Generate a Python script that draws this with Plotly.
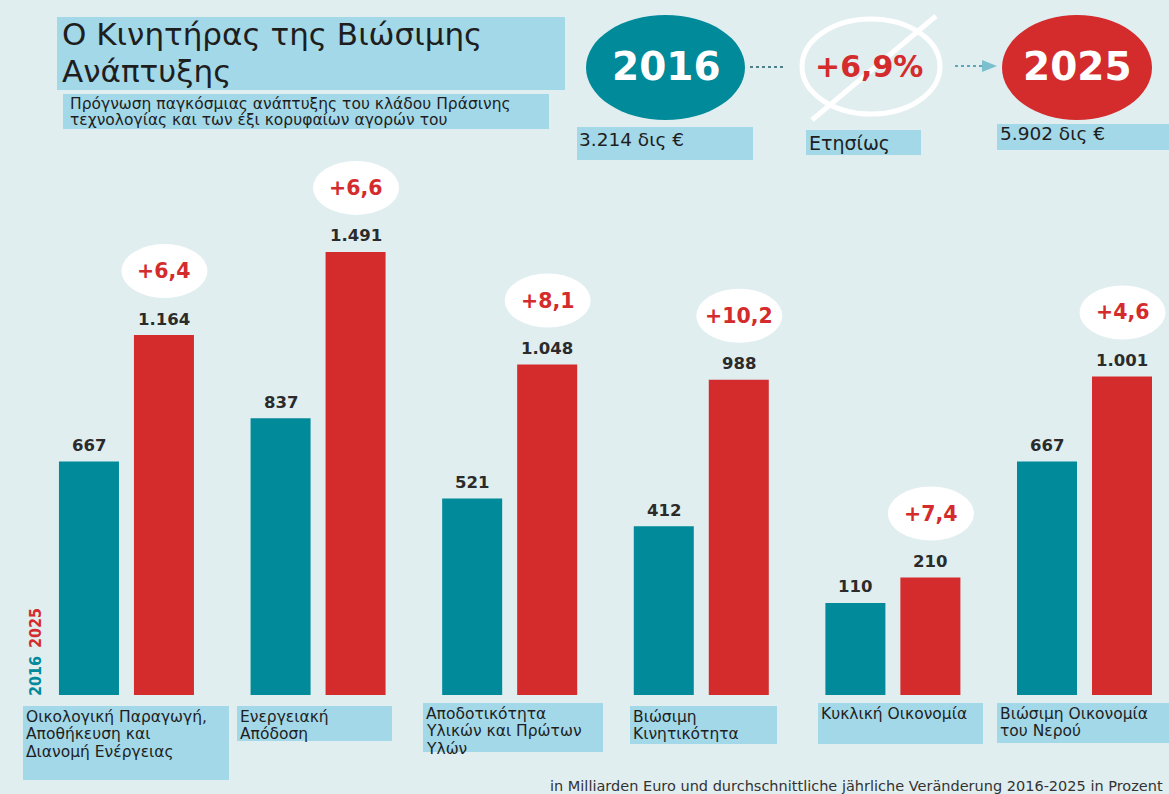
import plotly.graph_objects as go

# ---------------- data ----------------
categories = [
    "Οικολογική Παραγωγή,<br>Αποθήκευση και<br>Διανομή Ενέργειας",
    "Ενεργειακή<br>Απόδοση",
    "Αποδοτικότητα<br>Υλικών και Πρώτων<br>Υλών",
    "Βιώσιμη<br>Κινητικότητα",
    "Κυκλική Οικονομία",
    "Βιώσιμη Οικονομία<br>του Νερού",
]
values_2016 = [667, 837, 521, 412, 110, 667]
values_2025 = [1164, 1491, 1048, 988, 210, 1001]
growth_pct = ["+6,4", "+6,6", "+8,1", "+10,2", "+7,4", "+4,6"]
year_labels = ["2016", "2025"]
total_2016 = "3.214 δις €"
total_2025 = "5.902 δις €"
total_growth = "+6,9%"
growth_caption = "Ετησίως"
title_lines = ["Ο Κινητήρας της Βιώσιμης", "Ανάπτυξης"]
subtitle_lines = ["Πρόγνωση παγκόσμιας ανάπτυξης του κλάδου Πράσινης",
                  "τεχνολογίας και των έξι κορυφαίων αγορών του"]
footer = "in Milliarden Euro und durchschnittliche jährliche Veränderung 2016-2025 in Prozent"

# ---------------- style ----------------
W, H = 1169, 794
BG = "#e1eef0"
BOX = "#a3d8e8"
TEAL = "#008a9a"
RED = "#d42b2d"
TXT = "#1e1e1e"
FLOOR = -252          # truncated axis floor (as in the original infographic)
YTOP = 1884
FONT = "DejaVu Sans"
BOLD = "DejaVu Sans"


def py(p):
    return 1 - p / H


def px(p):
    return p / W


idx = list(range(len(categories)))
fmt = lambda v: f"{v:,}".replace(",", ".")

fig = go.Figure()
fig.add_trace(go.Bar(x=idx, y=[v - FLOOR for v in values_2016], base=FLOOR,
                     width=0.3132, offset=-0.3523, marker=dict(color=TEAL, line_width=0),
                     hoverinfo="skip", showlegend=False))
fig.add_trace(go.Bar(x=idx, y=[v - FLOOR for v in values_2025], base=FLOOR,
                     width=0.3132, offset=0.0391, marker=dict(color=RED, line_width=0),
                     hoverinfo="skip", showlegend=False))

shapes = []
ann = []


def txt(x, y, text, size, color=TXT, family=FONT, bold=False, xanchor="center",
        yanchor="middle", **kw):
    d = dict(x=x, y=y, xref=kw.pop("xref", "paper"), yref=kw.pop("yref", "paper"),
             text=text, showarrow=False, xanchor=xanchor, yanchor=yanchor,
             font=dict(family=family, size=size, color=color,
                       weight="bold" if bold else "normal"))
    d.update(kw)
    ann.append(d)


def box(l, t, r, b):
    shapes.append(dict(type="rect", xref="paper", yref="paper", x0=px(l), x1=px(r),
                       y0=py(b), y1=py(t), fillcolor=BOX, line_width=0, layer="below"))


# value labels + growth bubbles
for i in idx:
    txt(i, values_2016[i], fmt(values_2016[i]), 16.5, "#2b2b2b", BOLD, True,
        xref="x", yref="y", xshift=-37.5, yshift=16)
    txt(i, values_2025[i], fmt(values_2025[i]), 16.5, "#2b2b2b", BOLD, True,
        xref="x", yref="y", xshift=37.5, yshift=16)
    shapes.append(dict(type="circle", xref="x", yref="y", xsizemode="pixel", ysizemode="pixel",
                       xanchor=i, yanchor=values_2025[i], x0=-5, x1=81, y0=37, y1=91,
                       fillcolor="white", line_width=0, layer="above"))
    txt(i, values_2025[i], growth_pct[i], 20.5, RED, BOLD, True,
        xref="x", yref="y", xshift=38, yshift=64)

# category label boxes (left, top, width, height in px)
cat_boxes = [(23, 706, 206, 74), (237, 706, 155, 35), (423, 703, 180, 49),
             (630, 706, 147, 38), (818, 703, 165, 41), (997, 703, 172, 40)]
for (l, t, w, h), lab in zip(cat_boxes, categories):
    box(l, t, l + w, t + h)
    for k, line in enumerate(lab.split("<br>")):
        txt(px(l + 1), py(t + 10.5 + 17.8 * k), line, 15.5, xanchor="left")

# vertical year legend
COND = "Liberation Sans Narrow, DejaVu Sans Condensed, DejaVu Sans"
txt(px(35), py(676), year_labels[0], 16, TEAL, COND, True, textangle=-90)
txt(px(35), py(628), year_labels[1], 16, RED, COND, True, textangle=-90)

# title block
box(57, 17, 565, 90)
txt(px(60), py(34), title_lines[0], 31, family="DejaVu Sans", xanchor="left")
txt(px(60), py(71), title_lines[1], 31, family="DejaVu Sans", xanchor="left")
box(63, 94, 549, 129)
txt(px(68), py(104), subtitle_lines[0], 15.5, xanchor="left")
txt(px(68), py(120), subtitle_lines[1], 15.5, xanchor="left")

# top-right summary: 2016 -> growth -> 2025
shapes.append(dict(type="circle", xref="paper", yref="paper", x0=px(586), x1=px(745),
                   y0=py(120), y1=py(15), fillcolor=TEAL, line_width=0))
shapes.append(dict(type="circle", xref="paper", yref="paper", x0=px(1002), x1=px(1152),
                   y0=py(120), y1=py(15), fillcolor=RED, line_width=0))
shapes.append(dict(type="circle", xref="paper", yref="paper", x0=px(802), x1=px(940),
                   y0=py(114), y1=py(19), fillcolor="rgba(0,0,0,0)",
                   line=dict(color="white", width=5)))
shapes.append(dict(type="line", xref="paper", yref="paper", x0=px(812), x1=px(936),
                   y0=py(120), y1=py(16), line=dict(color="white", width=5)))
shapes.append(dict(type="line", xref="paper", yref="paper", x0=px(750), x1=px(784),
                   y0=py(67), y1=py(67), line=dict(color="#4f7f88", width=2, dash="dot")))
shapes.append(dict(type="line", xref="paper", yref="paper", x0=px(955), x1=px(982),
                   y0=py(66), y1=py(66), line=dict(color="#5aa9b8", width=2, dash="dot")))
shapes.append(dict(type="path", xref="paper", yref="paper",
                   path=f"M {px(982)},{py(60)} L {px(997)},{py(66)} L {px(982)},{py(72)} Z",
                   fillcolor="#7cc0cf", line_width=0))
txt(px(666), py(67), year_labels[0], 39, "white", BOLD, True)
txt(px(1077), py(67), year_labels[1], 39, "white", BOLD, True)
txt(px(869), py(67), total_growth, 30, RED, BOLD, True)

box(577, 127, 753, 160)
txt(px(577), py(139), total_2016, 18.5, xanchor="left")
box(806, 130, 921, 155)
txt(px(807), py(143), growth_caption, 19, xanchor="left")
box(997, 124, 1169, 150)
txt(px(998), py(134), total_2025, 18.5, xanchor="left")

# footer
txt(px(1165), py(786), footer, 14.5, "#333333", xanchor="right")

fig.update_layout(
    width=W, height=H, margin=dict(l=0, r=0, t=0, b=0),
    paper_bgcolor=BG, plot_bgcolor=BG,
    xaxis=dict(range=[-0.660, 5.441], visible=False, fixedrange=True),
    yaxis=dict(range=[FLOOR, YTOP], domain=[py(695), py(152)], visible=False, fixedrange=True),
    shapes=shapes, annotations=ann, showlegend=False,
)
fig.write_html("out.html", config={"displayModeBar": False},
               post_script="document.body.style.margin='0px';")
